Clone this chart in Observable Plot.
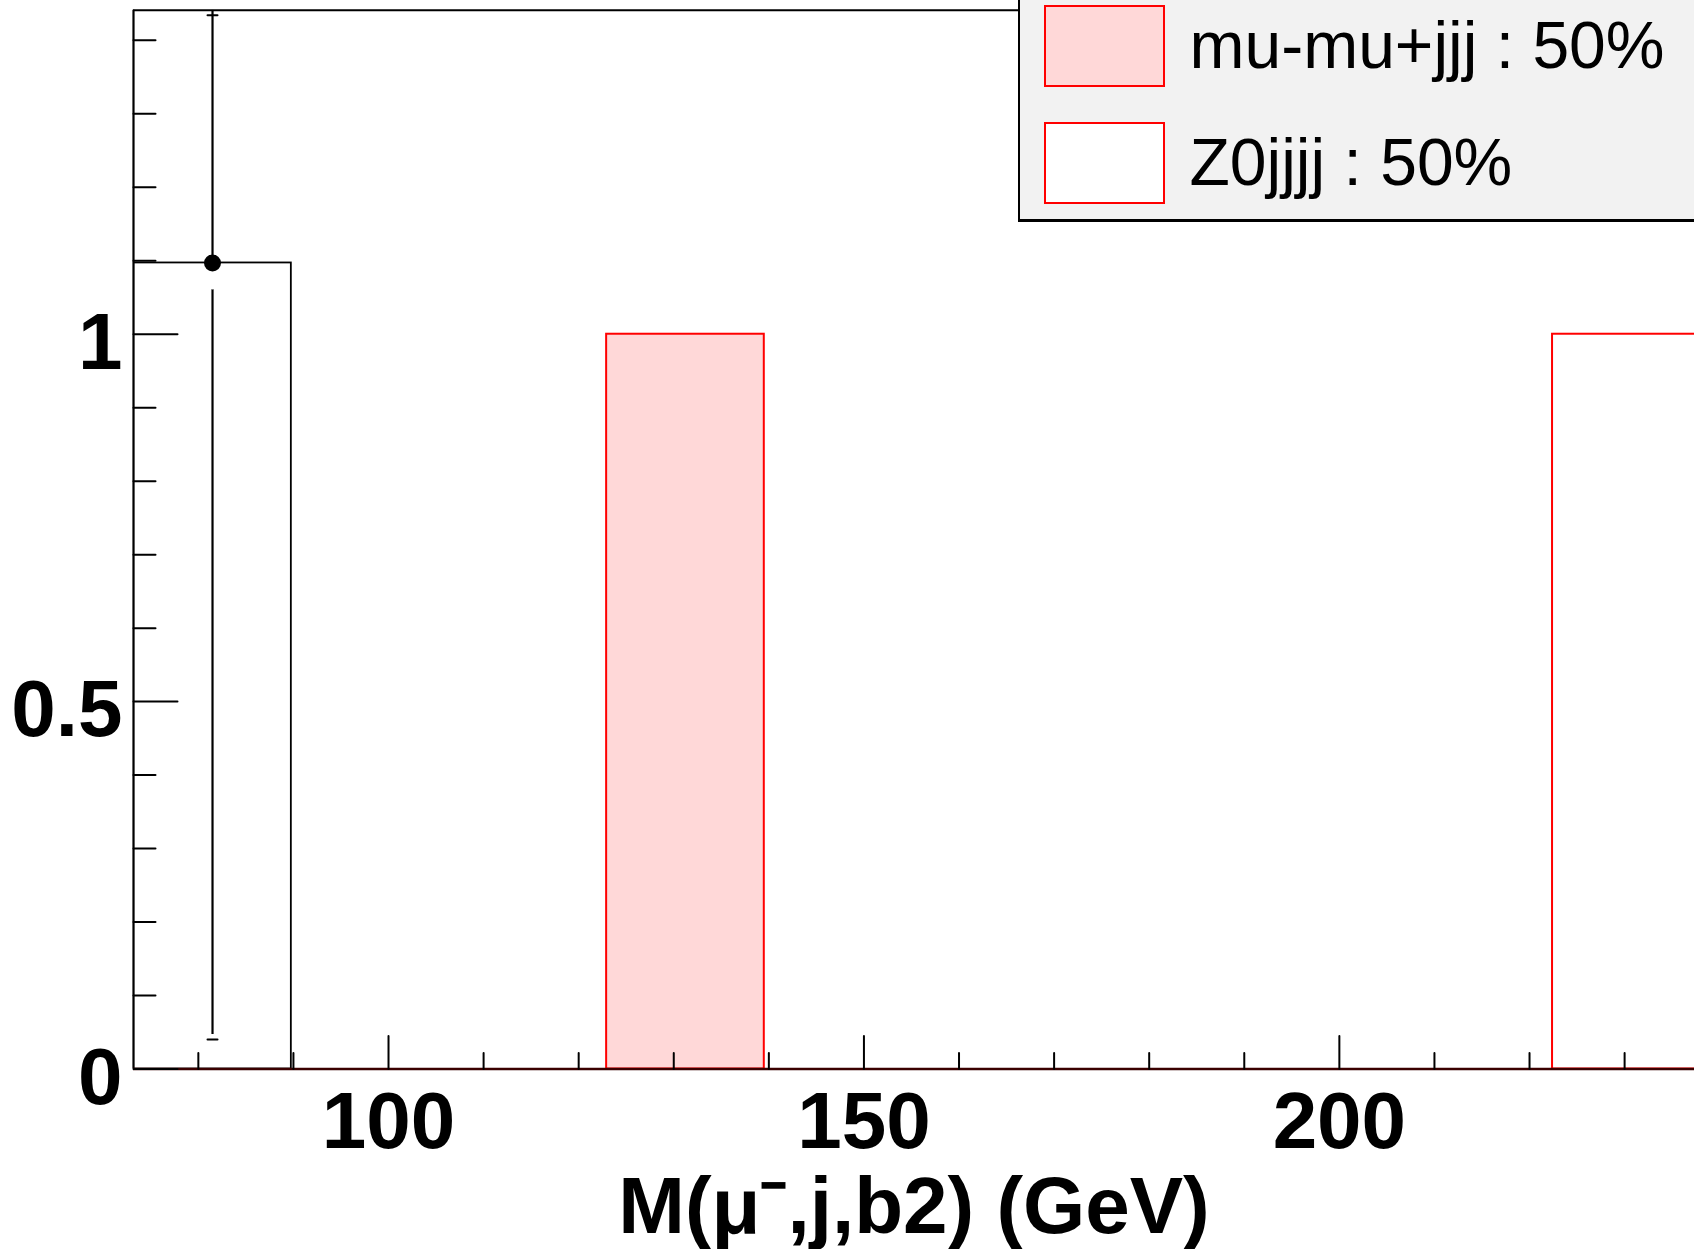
<!DOCTYPE html>
<html>
<head>
<meta charset="utf-8">
<script src="https://cdn.jsdelivr.net/npm/d3@7"></script>
<script src="https://cdn.jsdelivr.net/npm/@observablehq/plot@0.6"></script>
<style>
  html, body { margin: 0; padding: 0; background: #fff; }
  #wrap { position: relative; width: 1694px; height: 1249px; overflow: hidden; font-family: "Liberation Sans", Arial, sans-serif; }
  #legend { position: absolute; left: 1018px; top: -30px; width: 720px; height: 252px; box-sizing: border-box;
            background: #f2f2f2; border: 2px solid #000; border-bottom-width: 3px; }
  .sw { position: absolute; width: 121px; height: 82px; box-sizing: border-box; border: 2px solid #ff0000; }
  .lt { position: absolute; font-size: 66px; line-height: 66px; white-space: nowrap; color: #000; }
</style>
</head>
<body>
<div id="wrap">
  <div id="chart"></div>
  <div id="legend"></div>
</div>
<script>
// ---- data ----
const binEdges = [73.2, 89.78, 106.36, 122.94, 139.52, 156.1, 172.68, 189.26, 205.84, 222.42, 239.0];
const z0jjjj   = [0, 0, 0, 0, 0, 0, 0, 0, 0, 1];
const mumujjj  = [0, 0, 0, 1, 0, 0, 0, 0, 0, 0];
const dataVals = [1.097, 0, 0, 0, 0, 0, 0, 0, 0, 0];
const dataErrLow  = [1.05, 0, 0, 0, 0, 0, 0, 0, 0, 0];
const dataErrHigh = [0.344, 0, 0, 0, 0, 0, 0, 0, 0, 0];
const xDomain = [73.18, 237.35];
const yDomain = [0, 1.441];
const xMajorTicks = [100, 150, 200];
const xMinorTicks = [80, 90, 110, 120, 130, 140, 160, 170, 180, 190, 210, 220, 230];
const yMajorTicks = [0, 0.5, 1];
const yMinorTicks = [0.1, 0.2, 0.3, 0.4, 0.6, 0.7, 0.8, 0.9, 1.1, 1.2, 1.3, 1.4];
const xLabel = "M(μ⁻,j,b2) (GeV)";
const legendLabels = ["mu-mu+jjj : 50%", "Z0jjjj : 50%"];
const legendFills = ["#ffd8d8", "#ffffff"];

// ---- tables ----
const bins = binEdges.slice(0, -1).map((x1, i) => ({
  x1, x2: binEdges[i + 1], xc: (x1 + binEdges[i + 1]) / 2,
  z: z0jjjj[i], m: mumujjj[i], d: dataVals[i],
  lo: dataVals[i] - dataErrLow[i], hi: dataVals[i] + dataErrHigh[i]
}));
const pts = bins.filter(b => b.d > 0);

const vTick = {draw(ctx, l) { ctx.moveTo(0, 0); ctx.lineTo(0, -l); }};
const hCap = {draw(ctx, l) { ctx.moveTo(-l / 2, 0); ctx.lineTo(l / 2, 0); }};
const vGap = {draw(ctx, l) { ctx.moveTo(0, -l / 2); ctx.lineTo(0, l / 2); }};
const font = "'Liberation Sans', Arial, sans-serif";

const plot = Plot.plot({
  width: 1694, height: 1249,
  marginLeft: 133, marginRight: 0, marginTop: 9.7, marginBottom: 180.5,
  style: {fontFamily: font, background: "transparent", overflow: "hidden"},
  x: {domain: xDomain, axis: null},
  y: {domain: yDomain, axis: null},
  marks: [
    // stacked MC: Z0jjjj bottom, mu-mu+jjj on top
    Plot.rectY(bins, {x1: "x1", x2: "x2", y1: 0, y2: "z", fill: "#ffffff", stroke: "#ff0000", strokeWidth: 2, clip: true}),
    Plot.rectY(bins, {x1: "x1", x2: "x2", y1: "z", y2: d => d.z + d.m, fill: "#ffd8d8", stroke: "#ff0000", strokeWidth: 2, clip: true}),
    // data error bars
    Plot.ruleX(pts, {x: "xc", y1: "lo", y2: d => Math.min(d.hi, yDomain[1]), stroke: "#000", strokeWidth: 2.2, clip: true}),
    Plot.vector(pts, {x: "xc", y: "lo", length: 10, shape: hCap, stroke: "#000", strokeWidth: 2}),
    Plot.vector(pts, {x: "xc", y: d => Math.min(d.hi, yDomain[1]), length: 10, shape: hCap, stroke: "#000", strokeWidth: 2}),
    Plot.vector(pts, {x: "xc", y: "d", length: 24, anchor: "middle", shape: vGap, stroke: "#fff", strokeWidth: 5}),
    // data histogram outline
    Plot.rectY(bins.slice(0, 1), {x1: "x1", x2: "x2", y1: 0, y2: "d", fill: "none", stroke: "#000", strokeWidth: 1.8, clip: true}),
    Plot.dot(pts, {x: "xc", y: "d", r: 8.5, fill: "#000", stroke: "none"}),
    // frame
    Plot.ruleX([xDomain[0]], {stroke: "#000", strokeWidth: 2.2}),
    Plot.ruleY([yDomain[1]], {stroke: "#000", strokeWidth: 2}),
    Plot.ruleY([0], {stroke: "#3a0000", strokeWidth: 2.4}),
    // ticks (inside the frame)
    Plot.vector(xMajorTicks, {x: d => d, frameAnchor: "bottom", length: 33, rotate: 0, anchor: "start", shape: vTick, stroke: "#000", strokeWidth: 2}),
    Plot.vector(xMinorTicks, {x: d => d, frameAnchor: "bottom", length: 16, rotate: 0, anchor: "start", shape: vTick, stroke: "#000", strokeWidth: 2}),
    Plot.vector(yMajorTicks, {y: d => d, frameAnchor: "left", length: 44, rotate: 90, anchor: "start", shape: vTick, stroke: "#000", strokeWidth: 2}),
    Plot.vector(yMinorTicks, {y: d => d, frameAnchor: "left", length: 22, rotate: 90, anchor: "start", shape: vTick, stroke: "#000", strokeWidth: 2}),
    // tick labels
    Plot.axisX(xMajorTicks, {tickSize: 0, tickPadding: 22, fontSize: 80, fontWeight: "bold", fontFamily: font, tickFormat: d => String(d), label: null, letterSpacing: -2}),
    Plot.axisY(yMajorTicks, {tickSize: 0, tickPadding: 11, dy: 9, fontSize: 80, fontWeight: "bold", fontFamily: font, tickFormat: d => String(d), label: null}),
    // x title
    Plot.text([xLabel], {frameAnchor: "bottom", dy: 164, lineAnchor: "bottom", textAnchor: "middle", fontSize: 80, fontWeight: "bold", fontFamily: font, fill: "#000", letterSpacing: -1})
  ]
});
document.getElementById("chart").appendChild(plot);

// legend
const leg = document.getElementById("legend");
legendLabels.forEach((lab, i) => {
  const sw = document.createElement("div");
  sw.className = "sw";
  sw.style.left = "23.5px";
  sw.style.top = (32.7 + i * 117.3) + "px";
  sw.style.background = legendFills[i];
  leg.appendChild(sw);
  const t = document.createElement("div");
  t.className = "lt";
  t.style.left = "169.5px";
  t.style.top = (39.7 + i * 117.3) + "px";
  t.textContent = lab;
  leg.appendChild(t);
});
</script>
</body>
</html>
